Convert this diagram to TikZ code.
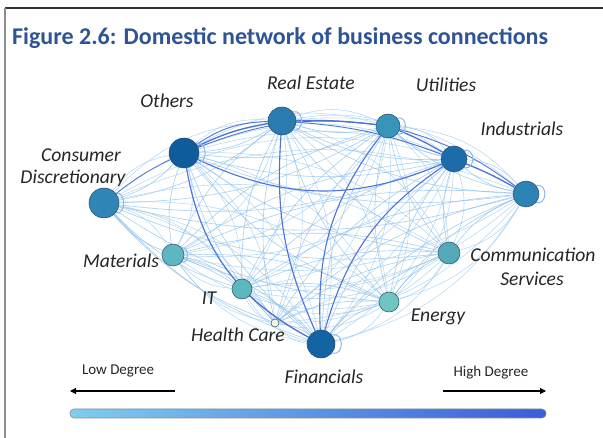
\documentclass[tikz,border=0pt]{standalone}
\usepackage{fontspec}
\setmainfont{Carlito}
\usetikzlibrary{arrows.meta}
\pgfdeclarelayer{background}
\pgfdeclarelayer{edges}
\pgfsetlayers{background,edges,main}

\definecolor{titleblue}{HTML}{2F5496}
\definecolor{edgelight}{HTML}{A9D2F2}
\definecolor{edgemid}{HTML}{84BAEA}
\definecolor{edgestrong}{HTML}{4F72DA}
\definecolor{loopcol}{HTML}{8FB8EC}
\definecolor{rimcol}{HTML}{2B4D6E}
\definecolor{barleft}{HTML}{7FCDEE}
\definecolor{barright}{HTML}{3A5ED6}
% sector fills
\definecolor{cCD}{HTML}{2F86B5}
\definecolor{cOT}{HTML}{0F5C9C}
\definecolor{cRE}{HTML}{2A7BAF}
\definecolor{cUT}{HTML}{3894B8}
\definecolor{cIN}{HTML}{1C6CA9}
\definecolor{cRN}{HTML}{2C82B4}
\definecolor{cCS}{HTML}{53A9B6}
\definecolor{cEN}{HTML}{6EC5C2}
\definecolor{cFI}{HTML}{1464A4}
\definecolor{cHC}{HTML}{F2F6E4}
\definecolor{cIT}{HTML}{5BB8BC}
\definecolor{cMA}{HTML}{5DB6C0}

\tikzset{
  sector/.style={circle, draw=rimcol, line width=0.5pt, inner sep=0pt, minimum size=#1},
  lab/.style={font=\fontsize{19.6}{22}\selectfont\itshape, text=black!85, inner sep=0pt},
  deg/.style={font=\fontsize{15}{17}\selectfont, text=black!85, inner sep=0pt},
  lightedge/.style={draw=edgelight, line width=0.55pt, opacity=0.85},
  midedge/.style={draw=edgemid, line width=0.6pt, opacity=0.7},
  strongedge/.style={draw=edgestrong, line width=1.3pt},
  selfloop/.style={draw=loopcol, line width=1pt},
  degarrow/.style={draw=black, line width=1.1pt, -{Triangle[length=6pt,width=6pt]}}
}

\begin{document}
\begin{tikzpicture}[x=1pt, y=-1pt]
\useasboundingbox (0,0) rectangle (603,438);
\begin{pgfonlayer}{background}
  \fill[white] (0,0) rectangle (603,438);
\end{pgfonlayer}

% frame
\draw[black!80, line width=1.4pt] (5,8) -- (603,8);
\draw[black!45, line width=1.6pt] (5,8) -- (5,438);

% title
\node[anchor=base west, inner sep=0pt, text=titleblue,
      font=\fontsize{24}{26}\selectfont\bfseries] (title) at (12,45)
      {Figure 2.6: Domestic network of business connections};

% sectors, numbered clockwise round the ring
\node[sector=30pt, fill=cCD] (n1)  at (104,203) {};
\node[sector=30pt, fill=cOT] (n2)  at (184,153) {};
\node[sector=28pt, fill=cRE] (n3)  at (282,121) {};
\node[sector=24pt, fill=cUT] (n4)  at (388,126) {};
\node[sector=26pt, fill=cIN] (n5)  at (454,159) {};
\node[sector=26pt, fill=cRN] (n6)  at (526,194) {};
\node[sector=22pt, fill=cCS] (n7)  at (449,253) {};
\node[sector=20pt, fill=cEN] (n8)  at (389,302) {};
\node[sector=28pt, fill=cFI] (n9)  at (321,344) {};
\node[sector=8pt,  fill=cHC] (n10) at (275,323) {};
\node[sector=20pt, fill=cIT] (n11) at (242,289) {};
\node[sector=22pt, fill=cMA] (n12) at (173,255) {};

% sector labels
\node[lab] (l2)  at (167,101) {Others};
\node[lab] (l3)  at (311,83)  {Real Estate};
\node[lab] (l4)  at (446,85)  {Utilities};
\node[lab] (l5)  at (522,129) {Industrials};
\node[lab] (l1a) at (81,155)  {Consumer};
\node[lab] (l1b) at (73,178)  {Discretionary};
\node[lab] (l12) at (121,261) {Materials};
\node[lab] (l11) at (209,298) {IT};
\node[lab] (l10) at (238,335) {Health Care};
\node[lab] (l9)  at (324,377) {Financials};
\node[lab] (l8)  at (438,317) {Energy};
\node[lab] (l7a) at (533,255) {Communication};
\node[lab] (l7b) at (532,279) {Services};

% connectors
\begin{pgfonlayer}{edges}
  \foreach \i in {1,...,12}{
    \foreach \j in {1,...,12}{
      \ifnum\i<\j
        \draw[lightedge] (n\i) to[bend left=22] (n\j);
        \draw[midedge] (n\i) to[bend right=14] (n\j);
      \fi
    }
  }
  % heavier links
  \draw[strongedge] (n2) to[bend left=8] (n3);
  \draw[strongedge, line width=0.9pt] (n2) to[bend left=16] (n3);
  \draw[strongedge, line width=0.9pt] (n2) to[bend left=14] (n4);
  \draw[strongedge] (n3) to[bend left=4] (n4);
  \draw[strongedge] (n4) to[bend left=4] (n5);
  \draw[strongedge, line width=0.9pt] (n3) to[bend left=8] (n5);
  \draw[strongedge] (n5) to[bend left=4] (n6);
  \draw[strongedge, line width=0.9pt] (n4) to[bend left=10] (n6);
  \draw[strongedge, line width=1.1pt] (n2) to[bend right=24] (n5);
  \draw[strongedge, line width=1.1pt] (n2) to[bend right=26] (n9);
  \draw[strongedge, line width=1.1pt] (n3) to[bend right=14] (n9);
  \draw[strongedge, line width=1.1pt] (n4) to[bend right=20] (n9);
  \draw[strongedge, line width=1.1pt] (n5) to[bend right=20] (n9);
  \draw[strongedge, line width=0.8pt] (n1) to[bend left=6] (n2);
  \draw[strongedge, line width=0.8pt] (n11) to[bend right=6] (n9);

  % self links: a small ring on the right-hand side of a sector
  \foreach \n/\d in {n1/11pt, n2/13pt, n3/12pt, n4/11pt, n5/12pt, n6/12pt, n9/13pt, n12/8pt}{
    \draw[selfloop] (\n.40) to[out=15, in=-15, looseness=1, min distance=\d] (\n.-40);
  }
\end{pgfonlayer}

% degree scale
\node[deg] (low)  at (118,371) {Low Degree};
\node[deg] (high) at (491,373) {High Degree};
\coordinate (lowtail)  at (175,391);
\coordinate (lowhead)  at (70,391);
\coordinate (hightail) at (443,391);
\coordinate (highhead) at (546,391);
\draw[degarrow] (lowtail) -- (lowhead);
\draw[degarrow] (hightail) -- (highhead);

\shade[left color=barleft, right color=barright, rounded corners=4pt,
       draw=black!45, line width=0.6pt] (70,409) rectangle (546,418);
\end{tikzpicture}
\end{document}
